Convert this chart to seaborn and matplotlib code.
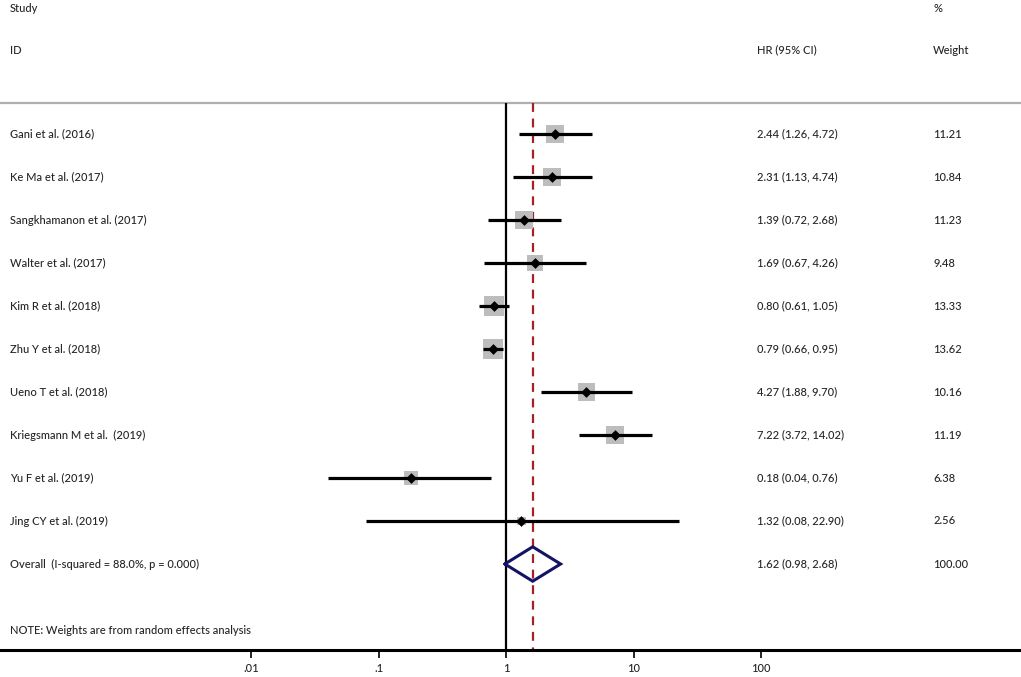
import numpy as np
import pandas as pd
import matplotlib
matplotlib.use("Agg")
import matplotlib.pyplot as plt
import seaborn as sns

studies = ["Gani et al. (2016)", "Ke Ma et al. (2017)", "Sangkhamanon et al. (2017)",
           "Walter et al. (2017)", "Kim R et al. (2018)", "Zhu Y et al. (2018)",
           "Ueno T et al. (2018)", "Kriegsmann M et al.  (2019)", "Yu F et al. (2019)",
           "Jing CY et al. (2019)"]
hr = [2.44, 2.31, 1.39, 1.69, 0.80, 0.79, 4.27, 7.22, 0.18, 1.32]
lo = [1.26, 1.13, 0.72, 0.67, 0.61, 0.66, 1.88, 3.72, 0.04, 0.08]
hi = [4.72, 4.74, 2.68, 4.26, 1.05, 0.95, 9.70, 14.02, 0.76, 22.90]
weight = [11.21, 10.84, 11.23, 9.48, 13.33, 13.62, 10.16, 11.19, 6.38, 2.56]
overall_label = "Overall  (I-squared = 88.0%, p = 0.000)"
overall_hr, overall_lo, overall_hi, overall_w = 1.62, 0.98, 2.68, 100.00
tick_vals = [0.01, 0.1, 1, 10, 100]
tick_labels = [".01", ".1", "1", "10", "100"]

sns.set_theme(style="white")
plt.rcParams['font.family'] = ['Lato', 'DejaVu Sans']

W, H, DPI = 1021, 677, 100
fig = plt.figure(figsize=(W / DPI, H / DPI), dpi=DPI)
ax_bottom_px = 650
ax = fig.add_axes([0, (H - ax_bottom_px) / H, 1, ax_bottom_px / H])

rows = np.arange(len(studies))
df = pd.DataFrame({"study": studies, "hr": hr, "lo": lo, "hi": hi,
                   "weight": weight, "row": rows})

ppd = 127.5  # pixels per decade
x1_px = 506
ax.set_xscale("log")
ax.set_xlim(10 ** (-x1_px / ppd), 10 ** ((W - x1_px) / ppd))
row0_px, row_px = 134, 43
ax.set_ylim((ax_bottom_px - row0_px) / row_px, -row0_px / row_px)

def ypix(p):
    return (p - row0_px) / row_px

top_y = ypix(103)
bottom_y = ax.get_ylim()[0]

# reference lines
ax.vlines(1, top_y, bottom_y, color="black", lw=1.6, zorder=2)
ax.vlines(overall_hr, top_y, bottom_y, color="#a3212b", lw=1.6,
          linestyles=(0, (4, 3)), zorder=2)
ax.axhline(top_y, color="#b0b0b0", lw=1.6, zorder=1)

# weighted squares
side_px = 5.4 * np.sqrt(df["weight"])
df["s"] = (side_px * 72 / DPI) ** 2
ax.scatter(df["hr"], df["row"], s=df["s"], marker="s", color="#bdbdbd",
           linewidths=0, zorder=3)
# CI lines
ax.hlines(df["row"], df["lo"], df["hi"], color="black", lw=2.3, zorder=4)
sns.scatterplot(data=df, x="hr", y="row", marker="D", color="black",
                s=30, linewidth=0, zorder=5, ax=ax, legend=False)

# overall diamond
orow = len(studies)
half = 0.4
dx = [overall_lo, overall_hr, overall_hi, overall_hr, overall_lo]
dy = [orow, orow - half, orow, orow + half, orow]
ax.plot(dx, dy, color="#141466", lw=2.2, zorder=5, solid_joinstyle="miter")

# text columns
fs = 8
fw = "medium"
tf = ax.get_yaxis_transform()
xl, xh, xw = 10 / W, 757 / W, 933 / W
def put(x, y, s):
    ax.text(x, y, s, transform=tf, fontsize=fs, fontweight=fw, va="center")
put(xl, ypix(8), "Study")
put(xl, ypix(50), "ID")
put(xh, ypix(50), "HR (95% CI)")
put(xw, ypix(8), "%")
put(xw, ypix(50), "Weight")
for i in range(len(studies)):
    put(xl, i, studies[i])
    put(xh, i, f"{hr[i]:.2f} ({lo[i]:.2f}, {hi[i]:.2f})")
    put(xw, i, f"{weight[i]:.2f}")
put(xl, orow, overall_label)
put(xh, orow, f"{overall_hr:.2f} ({overall_lo:.2f}, {overall_hi:.2f})")
put(xw, orow, f"{overall_w:.2f}")
put(xl, ypix(630), "NOTE: Weights are from random effects analysis")

# axes styling
for sp in ["top", "left", "right"]:
    ax.spines[sp].set_visible(False)
ax.spines["bottom"].set_color("black")
ax.spines["bottom"].set_linewidth(2.2)
ax.set_xticks(tick_vals)
ax.set_xticklabels(tick_labels, fontsize=fs, fontweight=fw)
ax.minorticks_off()
ax.tick_params(axis="x", which="major", direction="out", length=6, width=1.2,
               color="black", pad=3, bottom=True)
ax.set_yticks([])
ax.set_xlabel("")
ax.set_ylabel("")

fig.savefig("out.png", dpi=DPI)
